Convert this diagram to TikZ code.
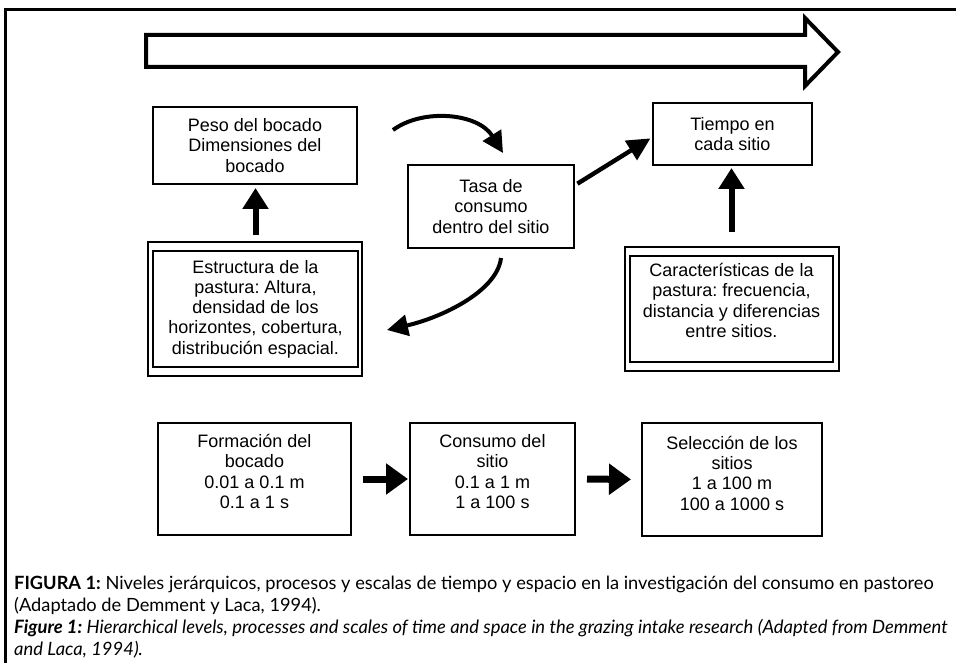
\documentclass[tikz,border=0pt]{standalone}
\usepackage{fontspec}
\setmainfont{Liberation Sans}
\newfontfamily\capfont{Lato}
\usetikzlibrary{arrows.meta,calc}
\frenchspacing

% multi-line box text, lifted without changing the box size
\newcommand{\lifted}[2]{\raisebox{#1}[\height][\depth]{\begin{tabular}{@{}c@{}}#2\end{tabular}}}

\tikzset{
  box/.style={draw, line width=1.6pt, align=center, inner sep=0pt, outer sep=0pt,
    font=\fontsize{18}{20.3}\selectfont},
  boxline/.style={line width=1.6pt},
  curvedarrow/.style={line width=4pt, -{Triangle[length=21pt,width=21pt]}},
  diagarrow/.style={line width=4.4pt, -{Triangle[length=23pt,width=22pt]}},
  upfat/.style={line width=6pt, -{Triangle[length=21pt,width=25pt]}},
  rightfat/.style={line width=7pt, -{Triangle[length=22pt,width=30pt]}},
  captext/.style={anchor=base west, inner sep=0pt, font=\capfont\fontsize{18.25}{22}\selectfont},
  captextit/.style={captext, font=\capfont\fontsize{18.4}{22}\selectfont\itshape}
}

\begin{document}
\begin{tikzpicture}[x=1pt,y=-1pt]
\fill[white] (0,0) rectangle (956,663);
\useasboundingbox (0,0) rectangle (956,663);

% page frame
\draw[line width=3pt] (5.5,663) -- (5.5,9.5) -- (956,9.5);

% hollow scale arrow
\draw[line width=4pt, line join=miter] (146,35) -- (805,35) -- (805,18) -- (838,52)
  -- (805,86) -- (805,67) -- (146,67) -- cycle;

% upper level
\node[box, minimum width=204pt, minimum height=77pt] (peso) at (255,145.5)
  {Peso del bocado\\Dimensiones del\\bocado};
\node[box, minimum width=166pt, minimum height=83pt] (tasa) at (491,206.5)
  {Tasa de\\consumo\\dentro del sitio};
\node[box, minimum width=159pt, minimum height=62pt] (tiempo) at (732.5,134)
  {Tiempo en\\cada sitio};

\node[box, minimum width=205pt, minimum height=116pt] (estr) at (255.5,309)
  {Estructura de la\\pastura: Altura,\\densidad de los\\horizontes, cobertura,\\distribución espacial.};
\draw[boxline] ($(estr.north west)+(-5,-9)$) rectangle ($(estr.south east)+(4,9)$);

\node[box, minimum width=203pt, minimum height=106pt] (carac) at (731.5,309)
  {\lifted{6pt}{Características de la\\pastura: frecuencia,\\distancia y diferencias\\entre sitios.}};
\draw[boxline] ($(carac.north west)+(-5,-9)$) rectangle ($(carac.south east)+(6,9)$);

% lower level
\node[box, minimum width=193pt, minimum height=112pt] (form) at (254.5,479)
  {\lifted{5pt}{Formación del\\bocado\\0.01 a 0.1 m\\0.1 a 1 s}};
\node[box, minimum width=165pt, minimum height=112pt] (cons) at (492.5,479)
  {\lifted{5pt}{Consumo del\\sitio\\0.1 a 1 m\\1 a 100 s}};
\node[box, minimum width=180pt, minimum height=113pt] (sel) at (732,479.5)
  {\lifted{4pt}{Selección de los\\sitios\\1 a 100 m\\100 a 1000 s}};

% connectors
\draw[upfat, shorten <=16pt, shorten >=4pt] (estr.north) -- (estr.north |- peso.south);
\draw[upfat, shorten <=24pt, shorten >=3pt] (carac.north) -- (carac.north |- tiempo.south);
\draw[diagarrow, shorten <=4pt, shorten >=3pt] (tasa.14) -- (tiempo.182);
\draw[curvedarrow] ($(peso.east)+(36,-15.5)$) .. controls +(30,-22) and +(-25,-40)
  .. ($(tasa.north)+(12,-12)$);
\draw[curvedarrow] ($(tasa.south)+(10,10)$) .. controls +(-4,34) and +(53,-12)
  .. ($(estr.east)+(29,21)$);
\draw[rightfat, shorten <=12pt, shorten >=2pt] (form.east) -- (cons.west);
\draw[rightfat, shorten <=12pt, shorten >=11pt] (cons.east) -- (sel.west);

% caption
\node[captext] (cap1) at (14,589) {\textbf{FIGURA 1:} Niveles jerárquicos, procesos y escalas de tiempo y espacio en la investigación del consumo en pastoreo};
\node[captext] (cap2) at (14,611) {(Adaptado de Demment y Laca, 1994).};
\node[captextit] (cap3) at (14,633) {\textbf{Figure 1:} Hierarchical levels, processes and scales of time and space in the grazing intake research (Adapted from Demment};
\node[captextit] (cap4) at (14,655) {and Laca, 1994).};
\end{tikzpicture}
\end{document}
